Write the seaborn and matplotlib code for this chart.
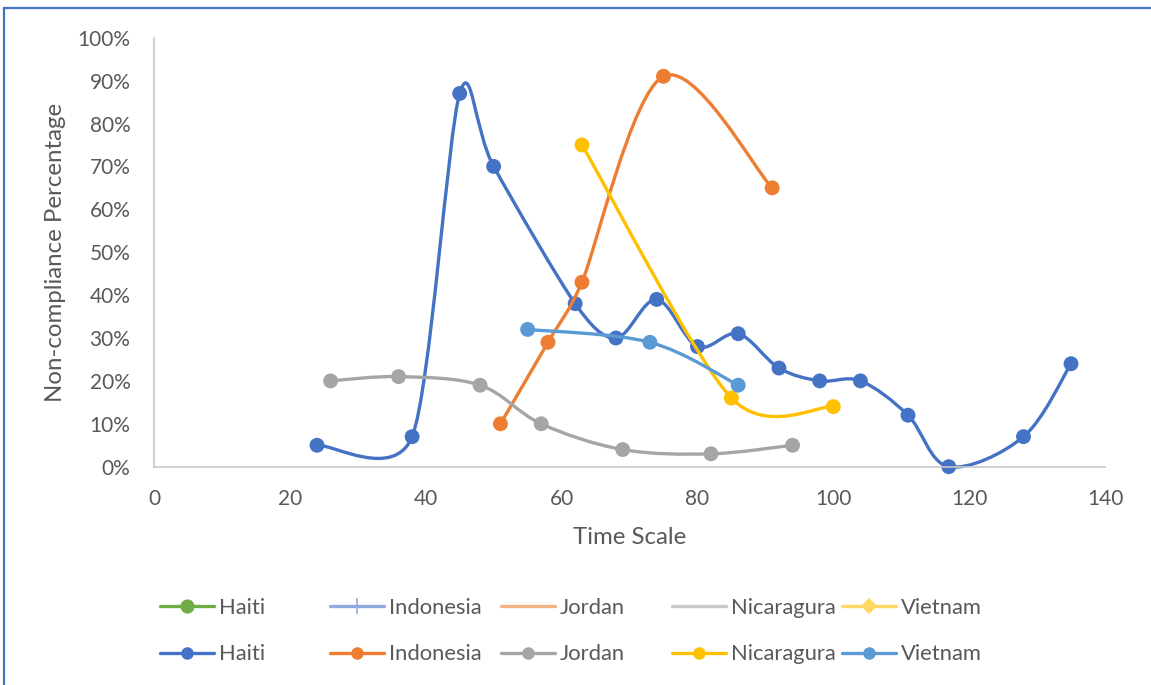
import numpy as np
import pandas as pd
import matplotlib
matplotlib.use("Agg")
import matplotlib.pyplot as plt
from matplotlib.path import Path
from matplotlib.patches import PathPatch
from matplotlib.lines import Line2D
import seaborn as sns

# ---- data -------------------------------------------------------------
haiti_t = [24, 38, 45, 50, 62, 68, 74, 80, 86, 92, 98, 104, 111, 117, 128, 135]
haiti_pct = [5, 7, 87, 70, 38, 30, 39, 28, 31, 23, 20, 20, 12, 0, 7, 24]

indonesia_t = [51, 58, 63, 75, 91]
indonesia_pct = [10, 29, 43, 91, 65]

jordan_t = [26, 36, 48, 57, 69, 82, 94]
jordan_pct = [20, 21, 19, 10, 4, 3, 5]

nicaragua_t = [63, 85, 100]
nicaragua_pct = [75, 16, 14]

vietnam_t = [55, 73, 86]
vietnam_pct = [32, 29, 19]

labels = ["Haiti", "Indonesia", "Jordan", "Nicaragura", "Vietnam"]
x_ticks = [0, 20, 40, 60, 80, 100, 120, 140]
y_ticks = [0, 10, 20, 30, 40, 50, 60, 70, 80, 90, 100]

# ---- style ------------------------------------------------------------
sns.set_theme(style="white")
plt.rcParams["font.family"] = ["Lato", "DejaVu Sans"]

series_colors = ["#4472C4", "#ED7D31", "#A5A5A5", "#FFC000", "#5B9BD5"]
ghost_colors = ["#70AD47", "#8FAADC", "#F4B183", "#C9C9C9", "#FFD966"]
ghost_markers = ["o", "|", None, None, "D"]
ghost_msize = [9, 11, 0, 0, 7]
text_color = "#595959"
axis_color = "#C8C8C8"
LW = 2.4
TICK_FS = 15
LEGEND_FS = 15.8
TITLE_FS = 17.3

W, H = 1151, 685
fig = plt.figure(figsize=(W / 100, H / 100), dpi=100)
left, right, bottom, top = 154, 1105, 466.7, 37.7
ax = fig.add_axes([left / W, 1 - bottom / H, (right - left) / W, (bottom - top) / H])
ax.set_xlim(0, 140)
ax.set_ylim(0, 100)


def smooth_path(ax, xs, ys):
    """Bezier path through the points, Excel-style smoothing done in display space."""
    pts = ax.transData.transform(np.column_stack([xs, ys]).astype(float))
    n = len(pts)

    def tangent(i):
        prev = pts[max(i - 1, 0)]
        nxt = pts[min(i + 1, n - 1)]
        t = (nxt - prev) / 6.0
        length = np.hypot(*t)
        if length == 0:
            return t
        caps = [length]
        if i > 0:
            caps.append(np.hypot(*(pts[i] - pts[i - 1])) / 2)
        if i < n - 1:
            caps.append(np.hypot(*(pts[i + 1] - pts[i])) / 2)
        return t * min(caps) / length

    verts = [pts[0]]
    codes = [Path.MOVETO]
    for i in range(n - 1):
        verts += [pts[i] + tangent(i), pts[i + 1] - tangent(i + 1), pts[i + 1]]
        codes += [Path.CURVE4] * 3
    verts = ax.transData.inverted().transform(np.array(verts))
    return Path(verts, codes)


series = [
    (haiti_t, haiti_pct),
    (indonesia_t, indonesia_pct),
    (jordan_t, jordan_pct),
    (nicaragua_t, nicaragua_pct),
    (vietnam_t, vietnam_pct),
]

for k, ((xs, ys), name, color) in enumerate(zip(series, labels, series_colors)):
    path = smooth_path(ax, xs, ys)
    ax.add_patch(PathPatch(path, facecolor="none", edgecolor=color, lw=LW,
                           capstyle="round", joinstyle="round",
                           zorder=2 + 2 * k, clip_on=False))
    df = pd.DataFrame({"t": xs, "pct": ys})
    sns.scatterplot(data=df, x="t", y="pct", ax=ax, color=color, s=115,
                    edgecolor="none", linewidth=0, zorder=2.5 + 2 * k,
                    clip_on=False, legend=False)

# ---- axes -------------------------------------------------------------
ax.set_xticks(x_ticks)
ax.set_yticks(y_ticks)
ax.set_yticklabels([f"{v}%" for v in y_ticks])
ax.tick_params(axis="both", length=0, labelsize=TICK_FS, labelcolor=text_color)
ax.tick_params(axis="x", pad=16.3)
ax.tick_params(axis="y", pad=17)
for side in ["top", "right"]:
    ax.spines[side].set_visible(False)
for side in ["left", "bottom"]:
    ax.spines[side].set_color(axis_color)
    ax.spines[side].set_linewidth(1.2)
ax.grid(False)

ax.set_xlabel("Time Scale", fontsize=TITLE_FS, color=text_color)
ax.set_ylabel("Non-compliance Percentage", fontsize=TITLE_FS, color=text_color)
ax.xaxis.set_label_coords(0.5, (bottom - 538) / (bottom - top))
ax.xaxis.label.set_va("center")
ax.yaxis.set_label_coords((55.5 - left) / (right - left), 0.5)
ax.yaxis.label.set_va("center")

# ---- legend: one two-row column per country ---------------------------
col_x = [160, 330, 501, 672, 842]
fs_px = LEGEND_FS * 100 / 72
for k in range(5):
    ghost = Line2D([], [], color=ghost_colors[k], lw=LW,
                   marker=ghost_markers[k] if ghost_markers[k] else "None",
                   markersize=ghost_msize[k], markeredgewidth=1.2,
                   markeredgecolor=ghost_colors[k])
    real = Line2D([], [], color=series_colors[k], lw=LW, marker="o",
                  markersize=9, markeredgewidth=0)
    fig.legend([ghost, real], [labels[k], labels[k]],
               loc="upper left",
               bbox_to_anchor=(col_x[k] / W, 1 - 598 / H),
               frameon=False, fontsize=LEGEND_FS, labelcolor=text_color,
               handlelength=54 / fs_px, handletextpad=5 / fs_px,
               labelspacing=1.2, borderpad=0, borderaxespad=0)

# ---- chart frame (left and top edges) ---------------------------------
frame_c = "#4472C4"
fig.add_artist(Line2D([4 / W, 4 / W], [0, 1 - 8 / H], transform=fig.transFigure,
                      color=frame_c, lw=1.6))
fig.add_artist(Line2D([4 / W, 1], [1 - 8 / H, 1 - 8 / H], transform=fig.transFigure,
                      color=frame_c, lw=1.6))

fig.savefig("out.png", dpi=100, facecolor="white")
